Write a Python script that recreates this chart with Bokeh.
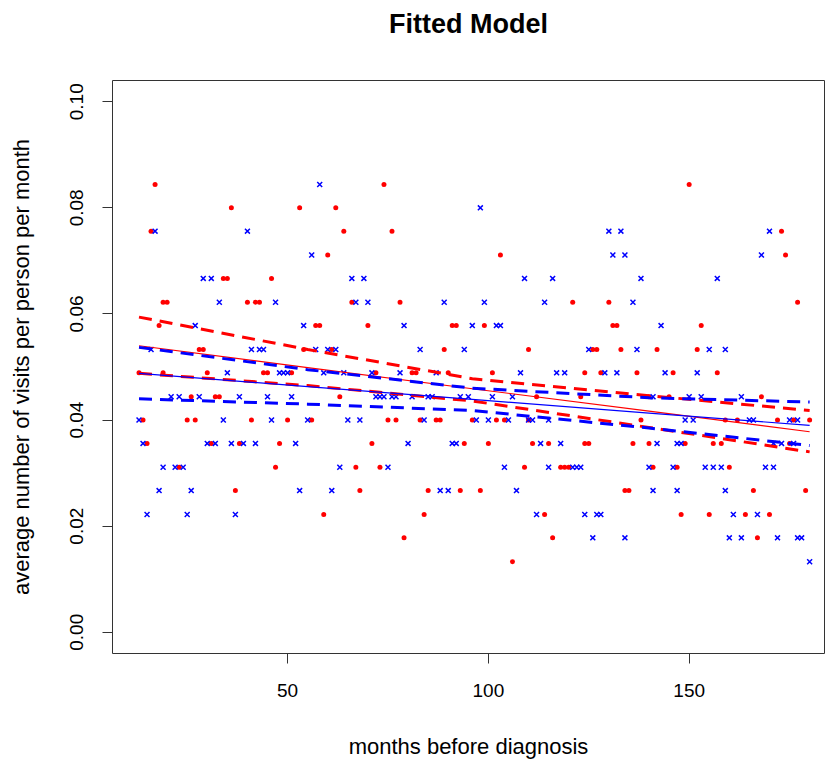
from bokeh.plotting import figure
from bokeh.models import FixedTicker, PrintfTickFormatter, LinearAxis
from bokeh.embed import file_html
from bokeh.resources import INLINE

# ---- observed data (red dots / blue crosses), months before diagnosis vs rate ----
red_month = [17, 74, 150,
             36, 53, 62,
             16, 64, 76, 173,
             60, 103, 174,
             34, 35, 46,
             19, 20, 40, 42, 43, 66, 78, 121, 130, 177,
             18, 57, 58, 70, 91, 92, 99, 131, 132, 153,
             28, 29, 54, 61, 89, 110, 126, 127, 133, 142, 152,
             13, 19, 30, 44, 45, 51, 72, 81, 82, 90, 101, 124, 128, 137, 146, 157,
             26, 32, 33, 63, 112, 123, 140, 145, 168,
             14, 25, 27, 41, 50, 56, 75, 77, 83, 87, 88, 96, 102, 104, 110, 138, 159, 162, 172, 176, 180,
             15, 31, 38, 48, 71, 94, 100, 111, 115, 124, 125, 136, 140, 149, 156, 158, 175,
             23, 47, 67, 73, 109, 118, 119, 120, 141, 147, 160,
             37, 68, 85, 93, 98, 134, 135, 166, 179,
             59, 84, 114, 148, 155, 164, 170,
             79, 116, 167,
             106]
red_rate = [0.0844, 0.0844, 0.0844,
            0.0800, 0.0800, 0.0800,
            0.0756, 0.0756, 0.0756, 0.0756,
            0.0711, 0.0711, 0.0711,
            0.0667, 0.0667, 0.0667,
            0.0622, 0.0622, 0.0622, 0.0622, 0.0622, 0.0622, 0.0622, 0.0622, 0.0622, 0.0622,
            0.0578, 0.0578, 0.0578, 0.0578, 0.0578, 0.0578, 0.0578, 0.0578, 0.0578, 0.0578,
            0.0533, 0.0533, 0.0533, 0.0533, 0.0533, 0.0533, 0.0533, 0.0533, 0.0533, 0.0533, 0.0533,
            0.0489, 0.0489, 0.0489, 0.0489, 0.0489, 0.0489, 0.0489, 0.0489, 0.0489, 0.0489, 0.0489, 0.0489, 0.0489, 0.0489, 0.0489, 0.0489,
            0.0444, 0.0444, 0.0444, 0.0444, 0.0444, 0.0444, 0.0444, 0.0444, 0.0444,
            0.0400, 0.0400, 0.0400, 0.0400, 0.0400, 0.0400, 0.0400, 0.0400, 0.0400, 0.0400, 0.0400, 0.0400, 0.0400, 0.0400, 0.0400, 0.0400, 0.0400, 0.0400, 0.0400, 0.0400, 0.0400,
            0.0356, 0.0356, 0.0356, 0.0356, 0.0356, 0.0356, 0.0356, 0.0356, 0.0356, 0.0356, 0.0356, 0.0356, 0.0356, 0.0356, 0.0356, 0.0356, 0.0356,
            0.0311, 0.0311, 0.0311, 0.0311, 0.0311, 0.0311, 0.0311, 0.0311, 0.0311, 0.0311, 0.0311,
            0.0267, 0.0267, 0.0267, 0.0267, 0.0267, 0.0267, 0.0267, 0.0267, 0.0267,
            0.0222, 0.0222, 0.0222, 0.0222, 0.0222, 0.0222, 0.0222,
            0.0178, 0.0178, 0.0178,
            0.0133]

blue_month = [58,
              98,
              17, 40, 130, 133, 170,
              56, 131, 134, 168,
              29, 31, 66, 69, 109, 116, 138, 157,
              33, 47, 67, 70, 89, 99, 114, 136,
              27, 54, 79, 96, 102, 103, 143,
              16, 41, 43, 44, 57, 60, 62, 83, 94, 125, 137, 155, 159,
              35, 48, 49, 50, 59, 64, 71, 78, 87, 108, 117, 119, 129, 132, 144, 152,
              21, 23, 28, 38, 45, 51, 72, 73, 74, 76, 77, 81, 85, 86, 93, 95, 101, 106, 141, 150, 153, 163,
              13, 34, 46, 55, 65, 68, 84, 97, 100, 105, 110, 111, 115, 149, 151, 165, 166, 175, 177,
              14, 30, 32, 36, 39, 42, 52, 80, 91, 92, 113, 118, 142, 147, 148, 171, 173, 176,
              19, 22, 24, 63, 75, 104, 115, 121, 122, 123, 140, 146, 154, 156, 158, 169, 171,
              18, 26, 53, 61, 88, 90, 107, 141, 147, 159,
              15, 25, 37, 112, 124, 127, 128, 161, 167,
              126, 134, 160, 163, 172, 177, 178,
              180]
blue_rate = [0.0844,
             0.0800,
             0.0756, 0.0756, 0.0756, 0.0756, 0.0756,
             0.0711, 0.0711, 0.0711, 0.0711,
             0.0667, 0.0667, 0.0667, 0.0667, 0.0667, 0.0667, 0.0667, 0.0667,
             0.0622, 0.0622, 0.0622, 0.0622, 0.0622, 0.0622, 0.0622, 0.0622,
             0.0578, 0.0578, 0.0578, 0.0578, 0.0578, 0.0578, 0.0578,
             0.0533, 0.0533, 0.0533, 0.0533, 0.0533, 0.0533, 0.0533, 0.0533, 0.0533, 0.0533, 0.0533, 0.0533, 0.0533,
             0.0489, 0.0489, 0.0489, 0.0489, 0.0489, 0.0489, 0.0489, 0.0489, 0.0489, 0.0489, 0.0489, 0.0489, 0.0489, 0.0489, 0.0489, 0.0489,
             0.0444, 0.0444, 0.0444, 0.0444, 0.0444, 0.0444, 0.0444, 0.0444, 0.0444, 0.0444, 0.0444, 0.0444, 0.0444, 0.0444, 0.0444, 0.0444, 0.0444, 0.0444, 0.0444, 0.0444, 0.0444, 0.0444,
             0.0400, 0.0400, 0.0400, 0.0400, 0.0400, 0.0400, 0.0400, 0.0400, 0.0400, 0.0400, 0.0400, 0.0400, 0.0400, 0.0400, 0.0400, 0.0400, 0.0400, 0.0400, 0.0400,
             0.0356, 0.0356, 0.0356, 0.0356, 0.0356, 0.0356, 0.0356, 0.0356, 0.0356, 0.0356, 0.0356, 0.0356, 0.0356, 0.0356, 0.0356, 0.0356, 0.0356, 0.0356,
             0.0311, 0.0311, 0.0311, 0.0311, 0.0311, 0.0311, 0.0311, 0.0311, 0.0311, 0.0311, 0.0311, 0.0311, 0.0311, 0.0311, 0.0311, 0.0311, 0.0311,
             0.0267, 0.0267, 0.0267, 0.0267, 0.0267, 0.0267, 0.0267, 0.0267, 0.0267, 0.0267,
             0.0222, 0.0222, 0.0222, 0.0222, 0.0222, 0.0222, 0.0222, 0.0222, 0.0222,
             0.0178, 0.0178, 0.0178, 0.0178, 0.0178, 0.0178, 0.0178,
             0.0133]

# ---- fitted models and confidence bands ----
fit_month = [13, 55, 96, 140, 180]
red_fit = [0.0540, 0.0499, 0.0459, 0.0417, 0.0378]
red_upper = [0.0594, 0.0533, 0.0478, 0.0446, 0.0418]
red_lower = [0.0488, 0.0465, 0.0436, 0.0386, 0.0340]
blue_fit = [0.0488, 0.0463, 0.0439, 0.0413, 0.0390]
blue_upper = [0.0537, 0.0495, 0.0460, 0.0442, 0.0434]
blue_lower = [0.0440, 0.0430, 0.0418, 0.0385, 0.0352]

x_ticks = [50, 100, 150]
y_ticks = [0.00, 0.02, 0.04, 0.06, 0.08, 0.10]

FONT = "Liberation Sans"
RED = "#FF0000"
BLUE = "#0000FF"

p = figure(width=825, height=766, x_range=(6.4, 183.7), y_range=(-0.004, 0.104),
           output_backend="svg", toolbar_location=None,
           min_border_left=112, min_border_right=1, min_border_top=80, min_border_bottom=113)

p.grid.visible = False
p.outline_line_color = "#333333"
p.outline_line_width = 1
p.background_fill_color = "white"
p.border_fill_color = "white"

for ax in (p.xaxis[0], p.yaxis[0]):
    ax.axis_line_color = None
    ax.major_tick_line_color = "#333333"
    ax.major_tick_in = 0
    ax.major_tick_out = 10
    ax.minor_tick_line_color = None
    ax.major_label_text_font = FONT
    ax.major_label_text_font_size = "19px"
    ax.major_label_text_color = "black"
    ax.axis_label_text_font = FONT
    ax.axis_label_text_font_size = "22px"
    ax.axis_label_text_font_style = "normal"
    ax.axis_label_text_color = "black"

p.xaxis.ticker = FixedTicker(ticks=x_ticks)
p.xaxis.axis_label = "months before diagnosis"
p.xaxis.major_label_standoff = 20
p.xaxis.axis_label_standoff = 34

p.yaxis.ticker = FixedTicker(ticks=y_ticks)
p.yaxis.formatter = PrintfTickFormatter(format="%.2f")
p.yaxis.major_label_orientation = "vertical"
p.yaxis.axis_label = "average number of visits per person per month"
p.yaxis.major_label_standoff = 19
p.yaxis.axis_label_standoff = 34

# chart title, carried by a tick-less axis above the frame
title_axis = LinearAxis(ticker=FixedTicker(ticks=[]), axis_label="Fitted Model",
                        axis_label_text_font=FONT, axis_label_text_font_size="27px",
                        axis_label_text_font_style="bold", axis_label_text_color="black",
                        axis_label_standoff=42, major_label_standoff=0,
                        major_tick_in=0, major_tick_out=0, minor_tick_in=0, minor_tick_out=0,
                        axis_line_color=None, major_tick_line_color=None,
                        minor_tick_line_color=None)
p.add_layout(title_axis, "above")

# points
p.scatter(red_month, red_rate, marker="circle", size=5, fill_color=RED, line_color=None)
p.scatter(blue_month, blue_rate, marker="x", size=7, line_color=BLUE, line_width=1.5)

# fitted lines
p.line(fit_month, red_fit, line_color=RED, line_width=1.2)
p.line(fit_month, red_upper, line_color=RED, line_width=3, line_dash="13 8", line_cap="butt")
p.line(fit_month, red_lower, line_color=RED, line_width=3, line_dash="13 8", line_cap="butt")
p.line(fit_month, blue_fit, line_color=BLUE, line_width=1.2)
p.line(fit_month, blue_upper, line_color=BLUE, line_width=3, line_dash="13 8", line_cap="butt")
p.line(fit_month, blue_lower, line_color=BLUE, line_width=3, line_dash="13 8", line_cap="butt")

open("out.html", "w").write(file_html(p, INLINE))
